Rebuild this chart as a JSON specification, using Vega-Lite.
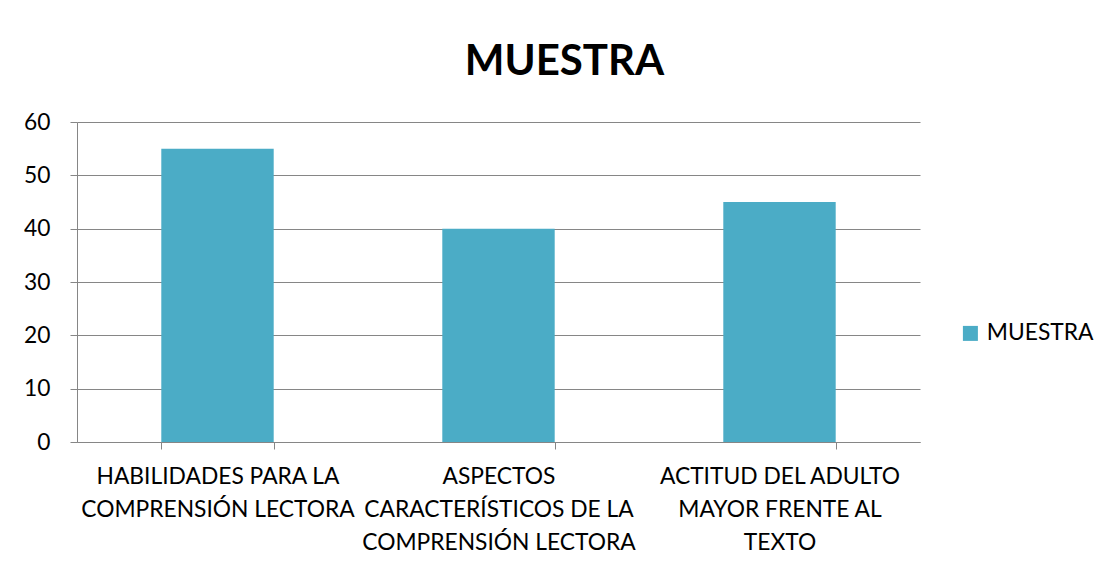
{
  "$schema": "https://vega.github.io/schema/vega-lite/v6.json",
  "autosize": "none",
  "width": 843,
  "height": 320,
  "padding": {"left": 77, "top": 122, "right": 198, "bottom": 130},
  "background": "white",
  "title": {
    "text": "MUESTRA",
    "anchor": "middle",
    "frame": "group",
    "font": "Lato",
    "fontSize": 42,
    "fontWeight": "bold",
    "color": "black",
    "dx": 66,
    "offset": 27
  },
  "data": {
    "values": [
      {"categoria": "HABILIDADES PARA LA|COMPRENSIÓN LECTORA", "valor": 55},
      {"categoria": "ASPECTOS|CARACTERÍSTICOS DE LA|COMPRENSIÓN LECTORA", "valor": 40},
      {"categoria": "ACTITUD DEL ADULTO|MAYOR FRENTE AL|TEXTO", "valor": 45}
    ]
  },
  "mark": {"type": "bar"},
  "encoding": {
    "x": {
      "field": "categoria",
      "type": "nominal",
      "sort": null,
      "scale": {"paddingInner": 0.6, "paddingOuter": 0.3},
      "axis": {
        "title": null,
        "labelAngle": 0,
        "labelExpr": "split(datum.label, '|')",
        "labelFont": "Lato",
        "labelFontSize": 22.8,
        "labelColor": "black",
        "labelLineHeight": 33,
        "labelPadding": 16,
        "labelBaseline": "top",
        "labelLimit": 0,
        "tickBand": "extent",
        "tickSize": 7,
        "tickColor": "#868686",
        "domainColor": "#868686",
        "grid": false
      }
    },
    "y": {
      "field": "valor",
      "type": "quantitative",
      "scale": {"domain": [0, 60]},
      "axis": {
        "title": null,
        "values": [0, 10, 20, 30, 40, 50, 60],
        "labelFont": "Lato",
        "labelFontSize": 22.8,
        "labelColor": "black",
        "labelPadding": 20,
        "tickSize": 7,
        "tickColor": "#868686",
        "domainColor": "#868686",
        "gridColor": "#868686",
        "grid": true
      }
    },
    "color": {
      "datum": "MUESTRA",
      "scale": {"range": ["#4BACC6"]},
      "legend": {
        "title": null,
        "orient": "none",
        "legendX": 882,
        "legendY": 200,
        "symbolType": "square",
        "symbolSize": 225,
        "symbolStrokeWidth": 0,
        "labelFont": "Lato",
        "labelFontSize": 22.8,
        "labelColor": "black",
        "labelOffset": 5,
        "padding": 0
      }
    }
  },
  "config": {
    "view": {"stroke": null},
    "axis": {"domainWidth": 1, "tickWidth": 1, "gridWidth": 1}
  }
}
